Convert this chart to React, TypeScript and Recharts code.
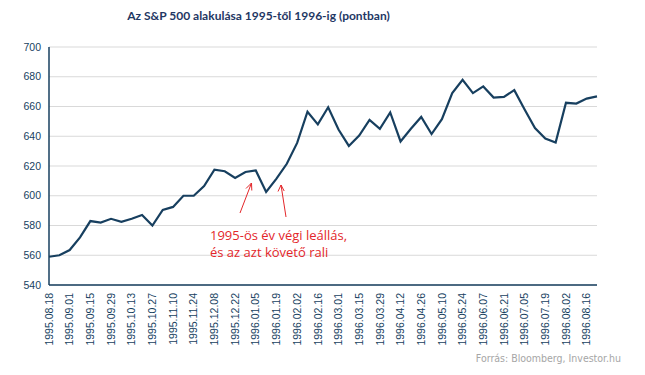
import React from "react";
import { LineChart, Line, XAxis, YAxis, CartesianGrid } from "recharts";

const dates = [
  "1995.08.18", "1995.08.25", "1995.09.01", "1995.09.08", "1995.09.15", "1995.09.22",
  "1995.09.29", "1995.10.06", "1995.10.13", "1995.10.20", "1995.10.27", "1995.11.03",
  "1995.11.10", "1995.11.17", "1995.11.24", "1995.12.01", "1995.12.08", "1995.12.15",
  "1995.12.22", "1995.12.29", "1996.01.05", "1996.01.12", "1996.01.19", "1996.01.26",
  "1996.02.02", "1996.02.09", "1996.02.16", "1996.02.23", "1996.03.01", "1996.03.08",
  "1996.03.15", "1996.03.22", "1996.03.29", "1996.04.05", "1996.04.12", "1996.04.19",
  "1996.04.26", "1996.05.03", "1996.05.10", "1996.05.17", "1996.05.24", "1996.05.31",
  "1996.06.07", "1996.06.14", "1996.06.21", "1996.06.28", "1996.07.05", "1996.07.12",
  "1996.07.19", "1996.07.26", "1996.08.02", "1996.08.09", "1996.08.16", "1996.08.23",
];

const spx = [
  559, 560, 563.5, 572, 583, 582, 584.5, 582.5, 584.5, 587, 580, 590.5,
  592.5, 600, 600, 606.5, 617.5, 616.5, 612, 616, 617, 602.5, 611.5, 621.5,
  635.5, 656.5, 648, 659.5, 644.5, 633.5, 640.5, 651, 645, 656, 636.5, 645,
  653, 641.5, 651.5, 669, 678, 669, 673.5, 666, 666.5, 671, 658, 645.5,
  638.5, 635.8, 662.5, 662, 665.3, 666.8,
];

const yTicks = [540, 560, 580, 600, 620, 640, 660, 680, 700];

const data = dates.map((d, i) => ({ date: d, value: spx[i] }));

const navy = "#173f5f";
const tickFont = "'Liberation Sans', Arial, sans-serif";

const DateTick = (props: any) => {
  const { x, y, payload } = props;
  return (
    <text
      x={x}
      y={y}
      transform={`rotate(-90, ${x}, ${y})`}
      textAnchor="end"
      dy="0.35em"
      fontSize={10.5}
      fontFamily={tickFont}
      fill={navy}
    >
      {payload.value}
    </text>
  );
};

export default function App() {
  return (
    <div style={{ position: "absolute", left: 0, top: 0, width: 645, height: 375, background: "#fff" }}>
      <div
        style={{
          position: "absolute",
          left: 0,
          width: 517,
          top: 8,
          textAlign: "center",
          fontFamily: "Lato, sans-serif",
          fontWeight: 700,
          fontSize: 12,
          color: "#1f3864",
        }}
      >
        Az S&amp;P 500 alakulása 1995-től 1996-ig (pontban)
      </div>
      <LineChart
        width={645}
        height={375}
        data={data}
        margin={{ top: 47, right: 48, bottom: 30, left: 9 }}
      >
        <CartesianGrid vertical={false} stroke="#d9d9d9" />
        <XAxis
          dataKey="date"
          scale="point"
          interval={1}
          height={60}
          tickLine={false}
          axisLine={{ stroke: navy, strokeWidth: 1.5 }}
          tick={<DateTick />}
        />
        <YAxis
          width={40}
          domain={[540, 700]}
          ticks={yTicks}
          tickLine={false}
          axisLine={{ stroke: navy, strokeWidth: 1.5 }}
          tick={{ fontSize: 10.5, fontFamily: tickFont, fill: navy }}
        />
        <Line
          type="linear"
          dataKey="value"
          stroke={navy}
          strokeWidth={2.2}
          dot={false}
          isAnimationActive={false}
        />
      </LineChart>
      <svg
        width={645}
        height={375}
        style={{ position: "absolute", left: 0, top: 0, pointerEvents: "none" }}
      >
        <g stroke="#e3262a" strokeWidth={1} fill="none">
          <line x1={240} y1={213} x2={251.5} y2={183} />
          <polyline points="246,188.5 251.5,183 251.8,190.5" />
          <line x1={286} y1={217} x2={281} y2={185} />
          <polyline points="278,191.5 281,185 284.2,191" />
        </g>
        <g fill="#e3262a" fontFamily="'Open Sans', sans-serif" fontSize={13}>
          <text x={210} y={239.5}>1995-ös év végi leállás,</text>
          <text x={210} y={256.5}>és az azt követő rali</text>
        </g>
        <text
          x={621}
          y={362}
          textAnchor="end"
          fill="#a6a6a6"
          fontFamily="'DejaVu Sans Condensed', sans-serif"
          fontSize={10.5}
        >
          Forrás: Bloomberg, Investor.hu
        </text>
      </svg>
    </div>
  );
}
